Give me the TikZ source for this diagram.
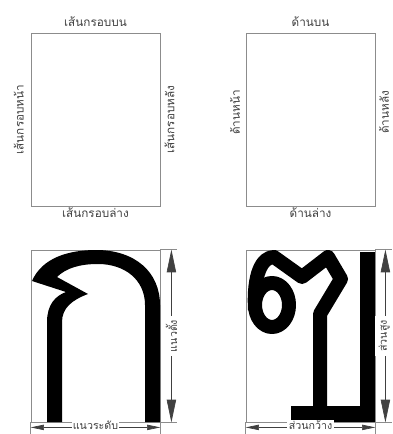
\documentclass[tikz,border=0pt]{standalone}
\usepackage{fontspec}
\newfontfamily\thaifont[Script=Thai]{Loma}
\usetikzlibrary{arrows.meta, calc, positioning}
\definecolor{framegray}{HTML}{8C8C8C}
\definecolor{txtgray}{HTML}{404040}
\tikzset{
  % กรอบของตัวอักษร
  frame/.style={draw=framegray, line width=0.6pt, inner sep=0pt},
  % ข้อความ
  lbl/.style={font=\thaifont\fontsize{8.8}{10}\selectfont, text=txtgray, inner sep=1pt},
  dimlbl/.style={font=\thaifont\fontsize{8}{9}\selectfont, text=txtgray, fill=white},
  % ตัวอักษรทึบ
  glyph/.style={fill=black},
  glyphline/.style={draw=black, line width=10.5pt, line join=round},
  % เส้นบอกขนาด
  dimv/.style={{Triangle[length=17pt, width=7pt]}-{Triangle[length=17pt, width=7pt]}, draw=txtgray, line width=0.5pt},
  dimh/.style={{Triangle[length=10pt, width=4pt]}-{Triangle[length=10pt, width=4pt]}, draw=txtgray, line width=0.5pt},
  tickline/.style={draw=framegray, line width=0.5pt},
}
\begin{document}
\begin{tikzpicture}[x=0.75pt, y=-0.75pt]
  \useasboundingbox (0,0) rectangle (392,434);
  % กรอบด้านบน
  \node[frame, minimum width=96.75pt, minimum height=129.75pt] (tl) at (95.5,119.5) {};
  \node[frame, minimum width=96.75pt, minimum height=129.75pt] (tr) at (310.5,119.5) {};
  \node[lbl, above=3pt of tl] {เส้นกรอบบน};
  \node[lbl, below=0pt of tl] {เส้นกรอบล่าง};
  \node[lbl, rotate=90, left=4pt of tl, anchor=south] {เส้นกรอบหน้า};
  \node[lbl, rotate=90, right=2pt of tl, anchor=north] {เส้นกรอบหลัง};
  \node[lbl, above=3pt of tr] {ด้านบน};
  \node[lbl, below=0pt of tr] {ด้านล่าง};
  \node[lbl, rotate=90, anchor=south] (trl) at ($(tr.west)+(-4,-7)$) {ด้านหน้า};
  \node[lbl, rotate=90, anchor=north] (trr) at ($(tr.east)+(2,-7)$) {ด้านหลัง};
  % กรอบด้านล่าง
  \node[frame, minimum width=96.75pt, minimum height=129pt] (bl) at (95.5,336) {};
  \node[frame, minimum width=96.75pt, minimum height=129pt] (br) at (310.5,336) {};
  % ก
  \fill[glyph] (47,422) -- (47,322) .. controls (47,305) and (55,296) .. (66,292)
    -- (32,281) .. controls (42,258) and (68,250) .. (96,250)
    .. controls (135,250) and (160,272) .. (160,305) -- (160,422) -- (145,422) -- (145,305)
    .. controls (145,280) and (125,264) .. (98,264) .. controls (80,264) and (66,268) .. (57,277)
    -- (88,294) .. controls (72,300) and (62,308) .. (62,322) -- (62,422) -- cycle;
  % ตัวที่สอง
  \draw[glyphline] (272,305) ellipse (17 and 22);
  \draw[glyphline] (255,310) .. controls (253,274) and (262,257) .. (274,257) -- (302,277)
    -- (328,257) -- (341,279) -- (320,314) -- (320,410);
  \fill[glyph] (291,406) rectangle (375,422);
  \fill[glyph] (360,252) rectangle (375,422);
  % เส้นบอกขนาด ก
  \coordinate (blv1) at ($(bl.north east)+(11,0)$);
  \coordinate (blv2) at ($(bl.south east)+(11,0)$);
  \draw[tickline] (bl.north east) -- ++(17,0);
  \draw[tickline] (bl.south east) -- ++(17,0);
  \draw[dimv] (blv1) -- (blv2) node[midway, dimlbl, rotate=90, inner sep=3pt] (blvt) {แนวตั้ง};
  \coordinate (blh1) at ($(bl.south west)+(0,5)$);
  \coordinate (blh2) at ($(bl.south east)+(0,5)$);
  \draw[tickline] (bl.south west) -- ++(0,12);
  \draw[tickline] (bl.south east) -- ++(0,12);
  \draw[dimh] (blh1) -- (blh2) node[midway, dimlbl, inner sep=1pt, yshift=1.5pt] (blht) {แนวระดับ};
  % เส้นบอกขนาด ตัวที่สอง
  \coordinate (brv1) at ($(br.north east)+(10,0)$);
  \coordinate (brv2) at ($(br.south east)+(10,0)$);
  \draw[tickline] (br.north east) -- ++(17,0);
  \draw[tickline] (br.south east) -- ++(17,0);
  \draw[dimv] (brv1) -- (brv2) node[midway, dimlbl, rotate=90, inner sep=3pt, yshift=1pt] (brvt) {ส่วนสูง};
  \coordinate (brh1) at ($(br.south west)+(0,5)$);
  \coordinate (brh2) at ($(br.south east)+(0,5)$);
  \draw[tickline] (br.south west) -- ++(0,12);
  \draw[tickline] (br.south east) -- ++(0,12);
  \draw[dimh] (brh1) -- (brh2) node[midway, dimlbl, inner sep=1pt, yshift=1.5pt] (brht) {ส่วนกว้าง};
\end{tikzpicture}
\end{document}
